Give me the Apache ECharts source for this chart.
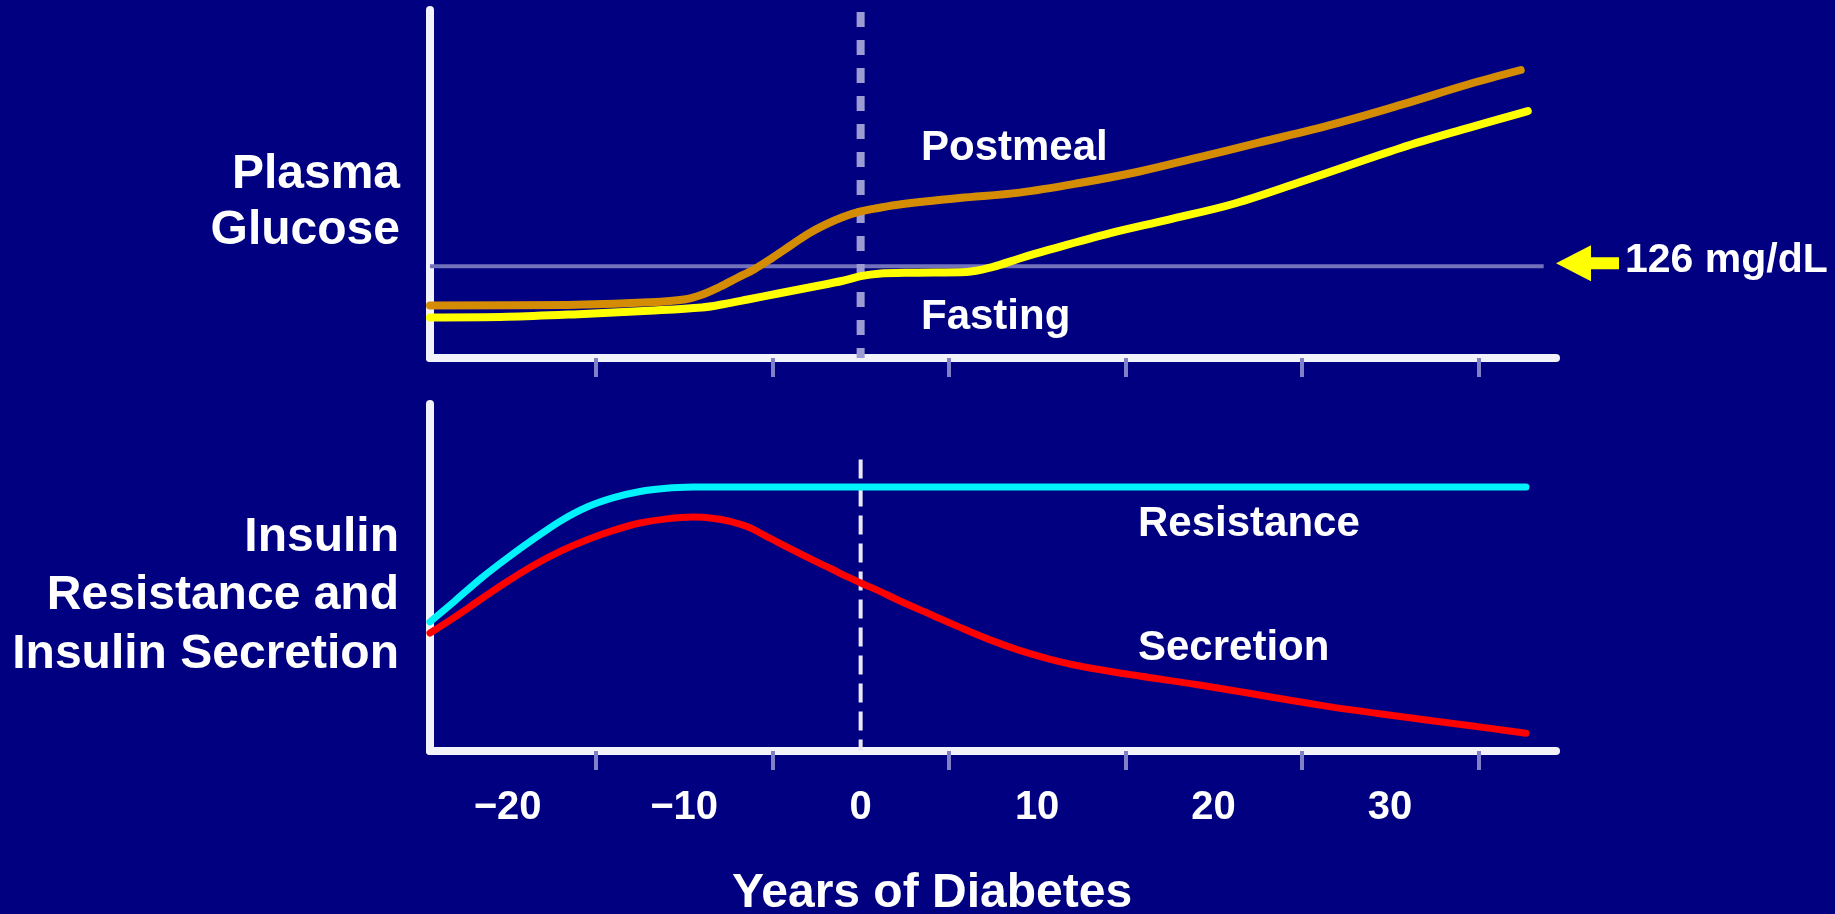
<!DOCTYPE html>
<html>
<head>
<meta charset="utf-8">
<script src="https://cdn.jsdelivr.net/npm/echarts@6/dist/echarts.min.js"></script>
<style>
html,body{margin:0;padding:0;background:#000080;}
#c{width:1835px;height:914px;}
</style>
</head>
<body>
<div id="c"></div>
<script>
// ---- data (years of diabetes on x) ----
const xLabelValues = [-20, -10, 0, 10, 20, 30];
const xTickValues = [-15, -5, 5, 15, 25, 35];
const xRange = [-24.4, 39.4];
const glucoseRange = [60, 310];     // mg/dL
const insulinRange = [0, 100];      // relative units
const threshold = 126;              // mg/dL
const thresholdLine = [[-24.4, 126], [38.7, 126]];
const onsetTop = [[0, 308.6], [0, 60]];
const onsetBottom = [[0, 84], [0, 0]];

const postmeal = [[-24.4,97.7],[-16.6,98.1],[-12,100],[-10,102],[-9,105.5],[-8,111],[-7,117.5],[-6,124],[-5,132],[-4,140.5],[-3,149],[-2,155.8],[-1,161.3],[0,165.3],[1,167.8],[2.2,170.3],[5.6,174.9],[9,178.8],[12.4,185.7],[15.8,194],[19.1,204],[22.5,214.5],[26.8,228],[30.6,241.8],[34.4,256.5],[37.4,266.9]];

const fasting = [[-24.4,89.1],[-20,89.6],[-16,91.5],[-12,94],[-9,96.3],[-7.8,98.6],[-6.4,102],[-4.6,106.5],[-2.7,111.2],[-1,115.5],[0,118.8],[1,120.6],[3,121.3],[6,121.8],[7.5,125.5],[9,131.5],[10.7,137.8],[14.1,149.5],[17.4,159.3],[21.2,171],[25.5,189],[30.6,210.9],[34.4,225.2],[37.8,237.4]];

const resistance = [[-24.4,37.2],[-23,43.2],[-21.5,49.8],[-20,55.7],[-18.5,61.2],[-17,66.3],[-15.5,70.3],[-14,73],[-12.5,74.8],[-11,75.7],[-9.5,76.05],[-8,76.1],[37.7,76.1]];

const secretion = [[-24.4,34.0],[-23,38.6],[-21.5,43.8],[-20,48.9],[-18.5,53.6],[-17,57.6],[-15.5,60.9],[-14,63.6],[-12.5,65.7],[-11,66.9],[-9.5,67.4],[-8.4,67.1],[-7.4,66.2],[-6.4,64.6],[-5.5,62.3],[-4.6,59.9],[-3.6,57.3],[-2.7,55.0],[-1.7,52.6],[-0.8,50.3],[0.1,48.2],[1.1,46.0],[2.2,43.3],[3.9,39.5],[5.6,35.7],[7.3,32.1],[9.0,29.0],[10.7,26.5],[12.4,24.5],[15.8,21.6],[19.1,19.1],[22.5,16.2],[25.9,13.3],[29.3,10.8],[32.7,8.5],[36.0,6.3],[37.7,5.1]];

// ---- chart ----
const FONT = '"Liberation Sans", Arial, sans-serif';
const chart = echarts.init(document.getElementById('c'), null, {renderer: 'canvas'});

function xAxisFor(gridIndex, showLabels) {
  return {
    type: 'value', gridIndex: gridIndex, min: xRange[0], max: xRange[1],
    axisLine: {show: true, onZero: false, lineStyle: {color: '#f2f2fa', width: 8}},
    axisTick: {show: true, customValues: xTickValues, length: 19, lineStyle: {color: '#8080c8', width: 4}},
    axisLabel: {
      show: showLabels, customValues: xLabelValues, margin: 37,
      color: '#ffffff', fontSize: 40, fontWeight: 'bold', fontFamily: FONT,
      formatter: function (v) { return v < 0 ? '\u2212' + Math.abs(v) : String(v); }
    },
    splitLine: {show: false}
  };
}
function yAxisFor(gridIndex, range) {
  return {
    type: 'value', gridIndex: gridIndex, min: range[0], max: range[1],
    axisLine: {show: true, onZero: false, lineStyle: {color: '#f2f2fa', width: 8}},
    axisTick: {show: false}, axisLabel: {show: false}, splitLine: {show: false}
  };
}
function lineSeries(name, data, xi, color, width, extra) {
  return Object.assign({
    name: name, type: 'line', xAxisIndex: xi, yAxisIndex: xi, data: data,
    showSymbol: false, symbol: 'none', smooth: 0.35, silent: true, animation: false,
    lineStyle: {color: color, width: width, cap: 'round', join: 'round'}
  }, extra || {});
}

chart.setOption({
  backgroundColor: '#000080',
  animation: false,
  grid: [
    {left: 430, top: 10, width: 1126, height: 348},
    {left: 430, top: 404, width: 1126, height: 347}
  ],
  xAxis: [xAxisFor(0, false), xAxisFor(1, true)],
  yAxis: [yAxisFor(0, glucoseRange), yAxisFor(1, insulinRange)],
  series: [
    lineSeries('126 mg/dL', thresholdLine, 0, '#7272bc', 4, {smooth: false, lineStyle: {color: '#7272bc', width: 4, cap: 'butt'}}),
    lineSeries('onset', onsetTop, 0, '#9c9cd2', 8, {smooth: false, lineStyle: {color: '#9c9cd2', width: 8, type: [15, 13], cap: 'butt'}}),
    lineSeries('Fasting', fasting, 0, '#ffff00', 8),
    lineSeries('Postmeal', postmeal, 0, '#d48c04', 8),
    lineSeries('onset2', onsetBottom, 1, '#e8e8f8', 4, {smooth: false, lineStyle: {color: '#e8e8f8', width: 4, type: [19, 9], cap: 'butt'}}),
    lineSeries('Resistance', resistance, 1, '#00f2fa', 7, {smooth: 0.3}),
    lineSeries('Secretion', secretion, 1, '#ff0000', 7)
  ]
});

const tip = chart.convertToPixel({gridIndex: 0}, [xRange[1], threshold]);

function txt(text, x, y, size, align) {
  return {
    type: 'text', x: x, y: y, silent: true,
    style: {text: text, fill: '#ffffff', font: 'bold ' + size + 'px ' + FONT,
            align: align, verticalAlign: 'middle', textAlign: align, textVerticalAlign: 'middle'}
  };
}

chart.setOption({
  graphic: [
    txt('Plasma', 400, 175, 48, 'right'),
    txt('Glucose', 400, 231, 48, 'right'),
    txt('Insulin', 399, 538, 48, 'right'),
    txt('Resistance and', 399, 596, 48, 'right'),
    txt('Insulin Secretion', 399, 655, 48, 'right'),
    txt('Postmeal', 921, 148, 42, 'left'),
    txt('Fasting', 921, 317, 42, 'left'),
    txt('Resistance', 1138, 524, 42, 'left'),
    txt('Secretion', 1138, 648, 42, 'left'),
    txt('Years of Diabetes', 932, 894, 48, 'center'),
    txt('126 mg/dL', tip[0] + 69, tip[1] - 5, 41, 'left'),
    {
      type: 'polygon', x: tip[0], y: tip[1] - 3, silent: true,
      shape: {points: [[0, 0], [35, -18], [35, -6], [63, -6], [63, 6], [35, 6], [35, 18]]},
      style: {fill: '#ffff00'}
    }
  ]
});
</script>
</body>
</html>
